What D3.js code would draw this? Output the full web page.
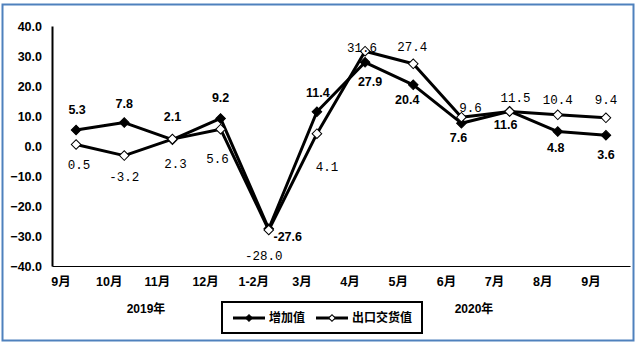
<!DOCTYPE html>
<html><head><meta charset="utf-8">
<script src="https://cdn.jsdelivr.net/npm/d3@7"></script>
<style>body{margin:0;background:#fff}svg{display:block}</style>
</head><body>
<script>
const categories = ["9月","10月","11月","12月","1-2月","3月","4月","5月","6月","7月","8月","9月"];
const addedValue = [5.3, 7.8, 2.1, 9.2, -27.6, 11.4, 27.9, 20.4, 7.6, 11.6, 4.8, 3.6];
const exportValue = [0.5, -3.2, 2.3, 5.6, -28.0, 4.1, 31.6, 27.4, 9.6, 11.5, 10.4, 9.4];
const yTicks = [-40, -30, -20, -10, 0, 10, 20, 30, 40];
const seriesNames = ["增加值", "出口交货值"];
const yearLabels = ["2019年", "2020年"];

// label placements [dx, dy] relative to point (center of text)
const addedOff = [[1,-20],[0,-19],[0,-23],[0,-21],[19,8],[1,-19],[5,19],[-6,15],[-3,14],[-4,13],[-2,16],[0,19]];
const exportOff = [[3,20],[0,21],[3,25],[-3,29],[-5,26],[10,33],[-3,-4],[-1,-17],[9,-10],[6,-14],[0,-15],[0,-18]];

const W = 640, H = 348;
const svg = d3.select("body").append("svg").attr("width", W).attr("height", H);
const boldFont = "Arial, 'Liberation Sans', 'Noto Sans CJK SC', sans-serif";
const cjk = "'Liberation Sans', 'Noto Sans CJK SC', sans-serif";
const monoFont = "'Liberation Mono', 'DejaVu Sans Mono', monospace";

svg.append("rect").attr("x", 2.5).attr("y", 4.5).attr("width", 631).attr("height", 336)
  .attr("fill", "#fff").attr("stroke", "#4f81bd").attr("stroke-width", 2);

const x = d3.scaleBand().domain(d3.range(categories.length)).range([52, 630]);
const y = d3.scaleLinear().domain([-40, 40]).range([266, 26]);
const cx = i => x(i) + x.bandwidth() / 2;

// y axis
const yAxis = svg.append("g").attr("transform", "translate(52,0)")
  .call(d3.axisLeft(y).tickValues(yTicks).tickSize(0).tickPadding(10).tickFormat(d3.format(".1f")));
yAxis.select(".domain").attr("stroke", "#000").attr("stroke-width", 2);
yAxis.selectAll("text").attr("font-family", boldFont).attr("font-weight", "bold")
  .attr("font-size", 12.5).attr("fill", "#000").attr("dy", "0.35em");

// x axis
const xAxis = svg.append("g").attr("transform", "translate(0,266)")
  .call(d3.axisBottom(x).tickSize(0).tickPadding(11).tickFormat(i => categories[i]));
xAxis.select(".domain").attr("stroke", "#000").attr("stroke-width", 1.2);
xAxis.selectAll("text").attr("font-family", cjk).attr("font-weight", "bold")
  .attr("font-size", 12.5).attr("fill", "#000").attr("dx", -15);

const line = d3.line().x((d, i) => cx(i)).y(d => y(d));
const sq = d3.symbol().type(d3.symbolSquare).size(46);

// added value series (solid)
svg.append("path").datum(addedValue).attr("d", line).attr("fill", "none")
  .attr("stroke", "#000").attr("stroke-width", 3).attr("stroke-linejoin", "round");
svg.selectAll(".pa").data(addedValue).join("path")
  .attr("transform", (d, i) => `translate(${cx(i)},${y(d)}) rotate(45)`)
  .attr("d", sq).attr("fill", "#000").attr("stroke", "#000").attr("stroke-width", 1);

// export value series (hollow)
svg.append("path").datum(exportValue).attr("d", line).attr("fill", "none")
  .attr("stroke", "#000").attr("stroke-width", 3).attr("stroke-linejoin", "round");
svg.selectAll(".pe").data(exportValue).join("path")
  .attr("transform", (d, i) => `translate(${cx(i)},${y(d)}) rotate(45)`)
  .attr("d", sq).attr("fill", "#fff").attr("stroke", "#000").attr("stroke-width", 1);

// labels
svg.selectAll(".la").data(addedValue).join("text")
  .attr("x", (d, i) => cx(i) + addedOff[i][0]).attr("y", (d, i) => y(d) + addedOff[i][1])
  .attr("dy", "0.35em").attr("text-anchor", "middle")
  .attr("font-family", boldFont).attr("font-weight", "bold").attr("font-size", 12.5)
  .attr("fill", "#000").text(d => d.toFixed(1));
svg.selectAll(".le").data(exportValue).join("text")
  .attr("x", (d, i) => cx(i) + exportOff[i][0]).attr("y", (d, i) => y(d) + exportOff[i][1])
  .attr("dy", "0.35em").attr("text-anchor", "middle")
  .attr("font-family", monoFont).attr("font-size", 12.5)
  .attr("fill", "#000").text(d => d.toFixed(1));

// year labels
svg.selectAll(".yr").data(yearLabels).join("text")
  .attr("x", (d, i) => i === 0 ? 146 : 474).attr("y", 309).attr("dy", "0.35em")
  .attr("text-anchor", "middle").attr("font-family", cjk).attr("font-weight", "bold")
  .attr("font-size", 12).attr("fill", "#000").text(d => d);

// legend
const lg = svg.append("g");
lg.append("rect").attr("x", 222).attr("y", 302).attr("width", 200).attr("height", 31)
  .attr("fill", "#fff").attr("stroke", "#000").attr("stroke-width", 2);
const items = [{x0: 233, fill: "#000", tx: 269}, {x0: 316, fill: "#fff", tx: 352}];
items.forEach((it, i) => {
  lg.append("line").attr("x1", it.x0).attr("x2", it.x0 + 32).attr("y1", 318).attr("y2", 318)
    .attr("stroke", "#000").attr("stroke-width", 3);
  lg.append("path").attr("transform", `translate(${it.x0 + 16},318) rotate(45)`)
    .attr("d", d3.symbol().type(d3.symbolSquare).size(22)).attr("fill", it.fill)
    .attr("stroke", "#000").attr("stroke-width", 1);
  lg.append("text").attr("x", it.tx).attr("y", 318).attr("dy", "0.35em")
    .attr("font-family", cjk).attr("font-weight", "bold").attr("font-size", 12)
    .attr("fill", "#000").text(seriesNames[i]);
});
</script>
</body></html>
